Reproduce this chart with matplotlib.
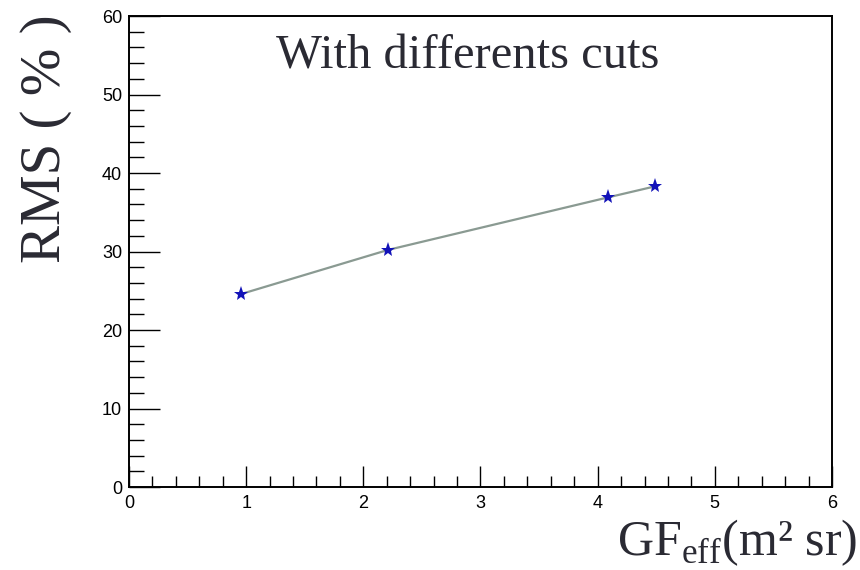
import matplotlib
matplotlib.use("Agg")
import matplotlib.pyplot as plt
from matplotlib.ticker import MultipleLocator

# Effective geometric factor (m^2 sr) and RMS (%) for each cut set
gf_eff = [0.96, 2.21, 4.09, 4.49]
rms = [24.6, 30.2, 36.9, 38.3]
rms_err = [0.4, 0.4, 0.4, 0.4]

fig = plt.figure(figsize=(8.6, 5.7), dpi=100)
ax = fig.add_axes([0.15, 0.1456, 0.8174, 0.8263])

ax.plot(gf_eff, rms, color="#8a9a92", lw=1.6, zorder=2)
ax.errorbar(gf_eff, rms, yerr=rms_err, fmt="none", ecolor="#1010c0", elinewidth=1.2, zorder=3)
ax.plot(gf_eff, rms, linestyle="none", marker="*", markersize=11,
        color="#1212b8", markeredgewidth=0, zorder=4)

ax.set_xlim(0, 6)
ax.set_ylim(0, 60)
ax.xaxis.set_major_locator(MultipleLocator(1))
ax.xaxis.set_minor_locator(MultipleLocator(0.2))
ax.yaxis.set_major_locator(MultipleLocator(10))
ax.yaxis.set_minor_locator(MultipleLocator(2))

ax.tick_params(axis="both", which="both", direction="in", top=False, right=False,
               labelsize=13, colors="black", width=1.0)
ax.tick_params(axis="x", which="major", length=15, pad=6)
ax.tick_params(axis="x", which="minor", length=8)
ax.tick_params(axis="y", which="major", length=22, pad=5)
ax.tick_params(axis="y", which="minor", length=11)
for lab in ax.get_xticklabels() + ax.get_yticklabels():
    lab.set_family("Liberation Sans")

for sp in ax.spines.values():
    sp.set_linewidth(1.4)

serif = "Liberation Serif"
text_color = "#2a2a33"
fig.text(0.997, 0.004, r"GF$_{\mathregular{eff}}$(m² sr)", ha="right", va="bottom",
         fontsize=36, family=serif, color=text_color)
fig.text(0.054, 0.975, "RMS ( % )", ha="center", va="top", rotation=90,
         fontsize=41, family=serif, color=text_color)
ax.text(0.482, 0.915, "With differents cuts", transform=ax.transAxes, ha="center",
        va="center", fontsize=35, family=serif, color=text_color)

fig.savefig("out.png", dpi=100, facecolor="white")
